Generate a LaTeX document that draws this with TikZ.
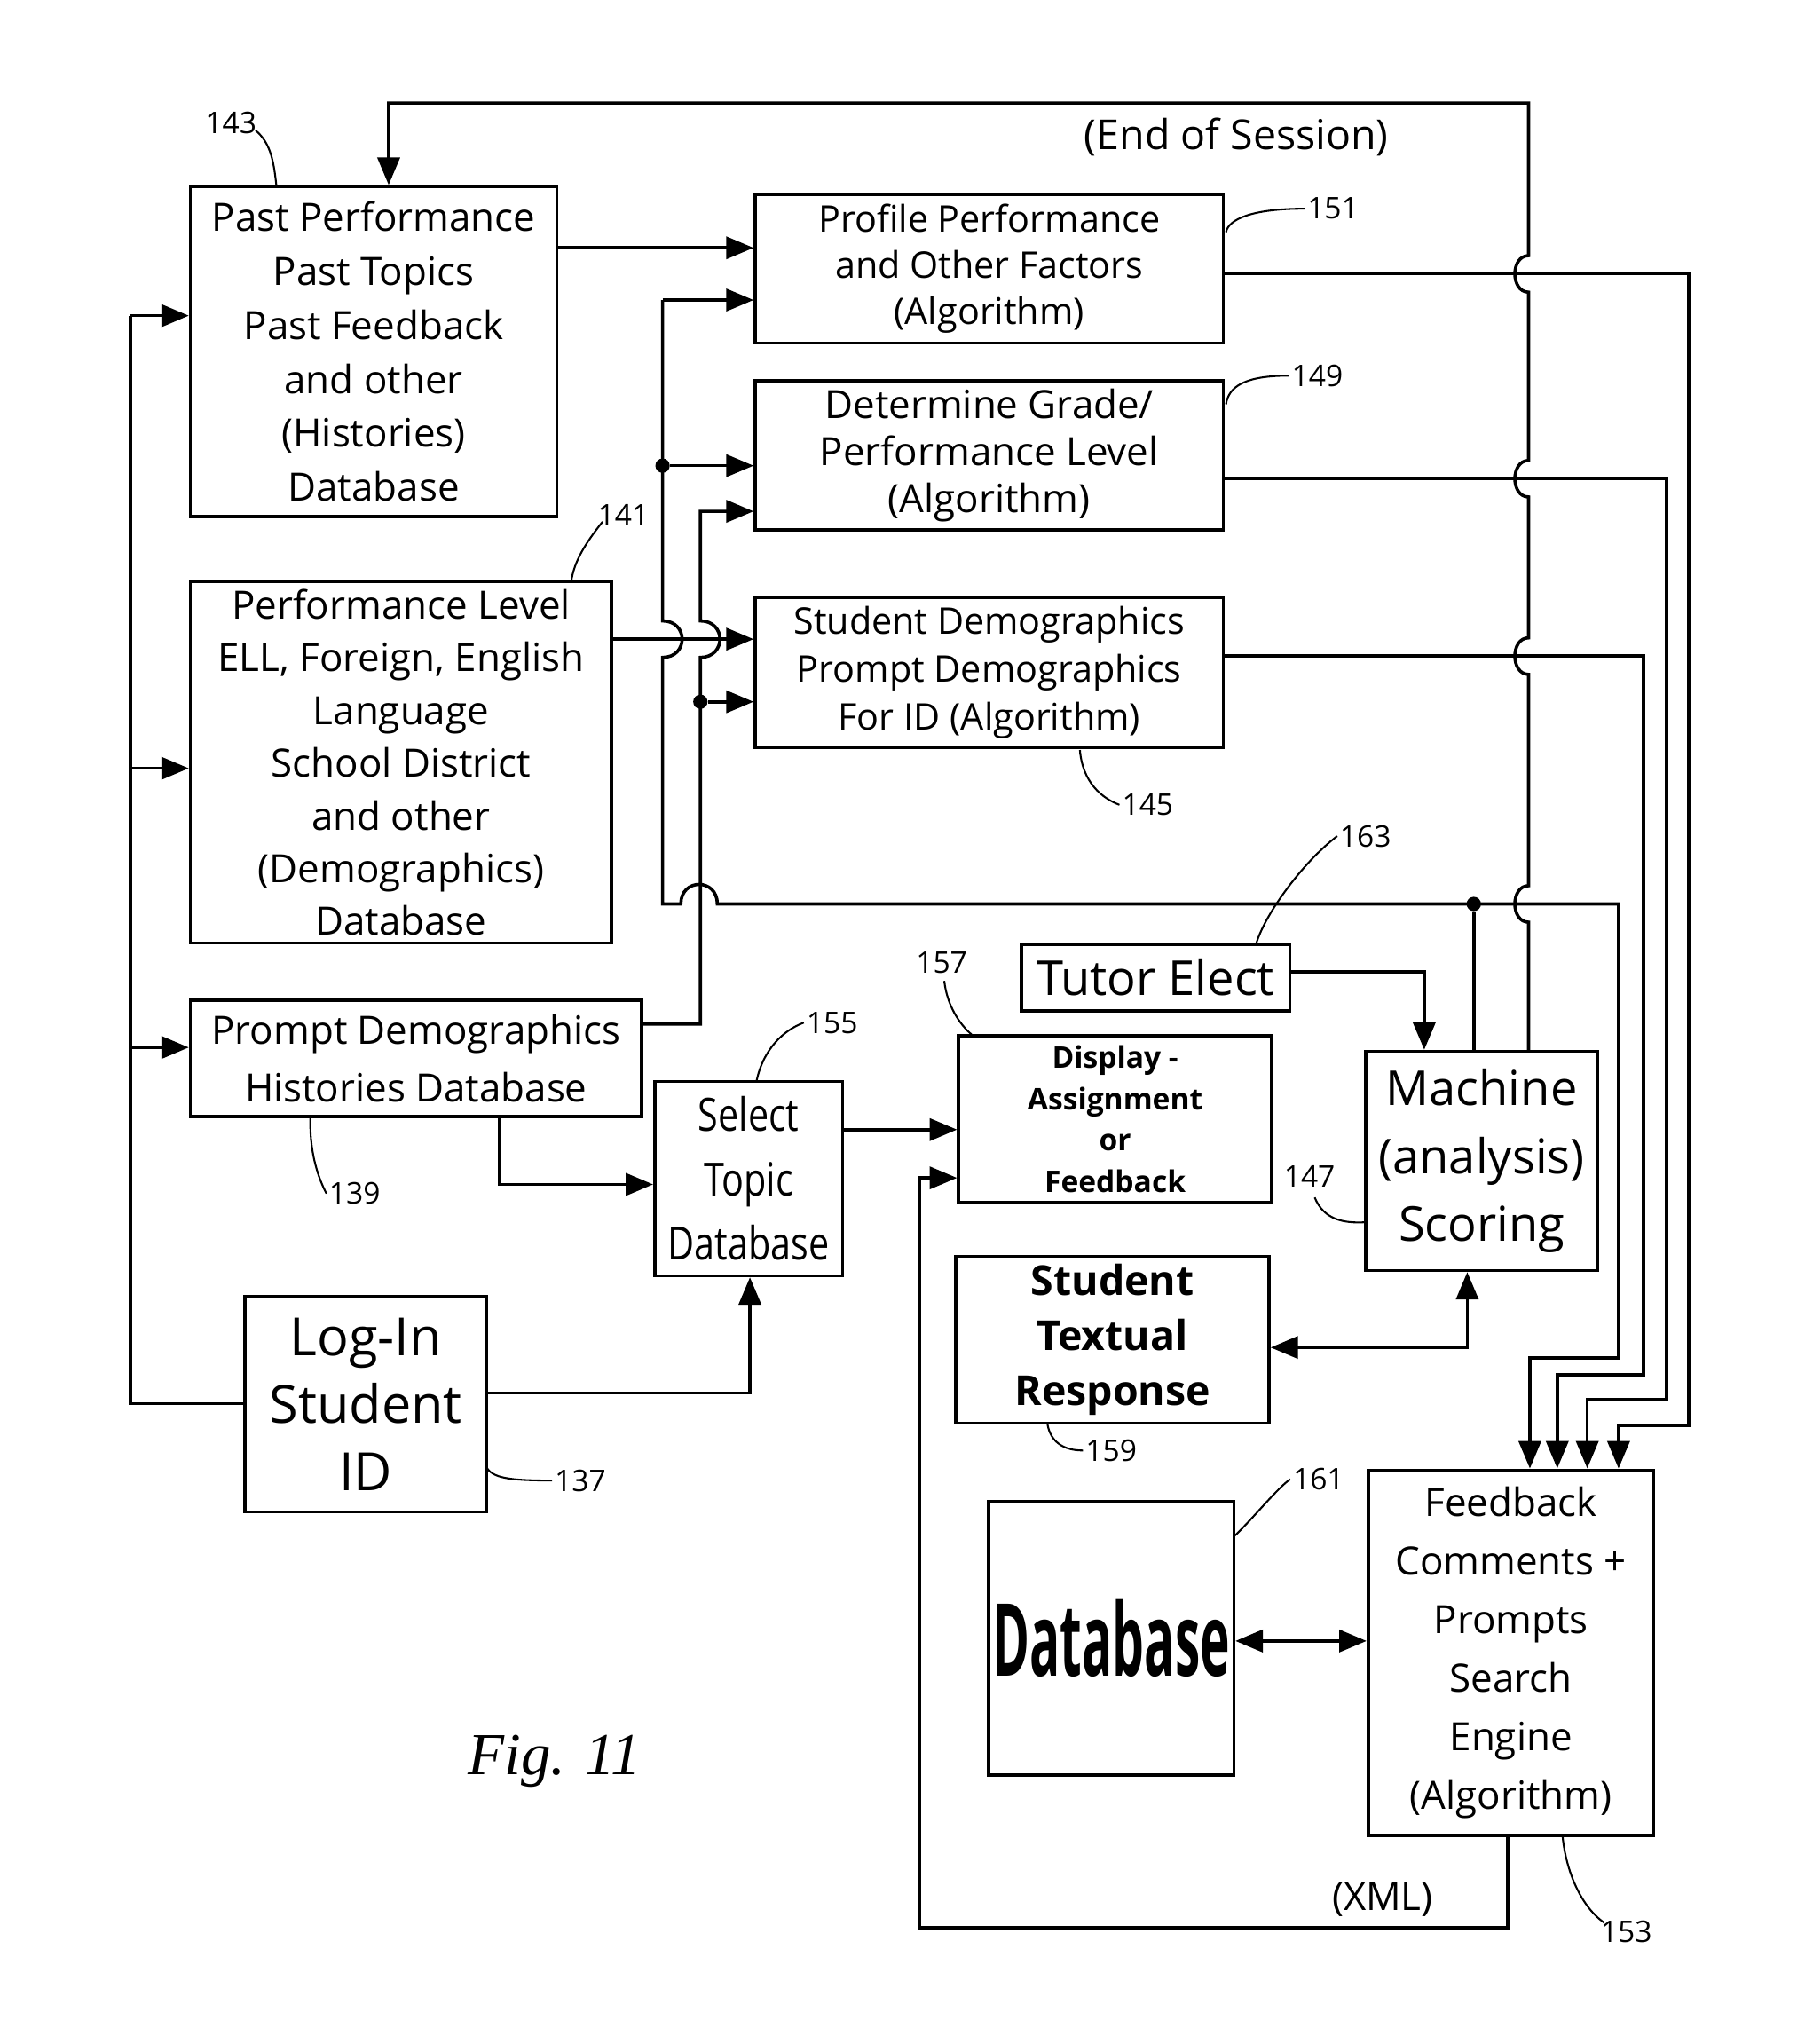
\documentclass[tikz,border=0pt]{standalone}
\usepackage{fontspec}
\setmainfont{Open Sans}
\usetikzlibrary{arrows.meta}
\newcommand{\bx}[7]{\node[box,font={#6},minimum width={(#4-#2)*0.02cm},minimum height={(#5-#3)*0.02cm}] (#1) at ({(#2+#4)/2},{(#3+#5)/2}) {#7};}
\begin{document}
\begin{tikzpicture}[x=0.02cm,y=-0.02cm,
  box/.style={draw,line width=1.4pt,inner sep=0pt,align=center},
  ln/.style={line width=1.4pt},
  ar/.style={ln,-{Triangle[length=0.42cm,width=0.34cm]}},
  dar/.style={ln,{Triangle[length=0.42cm,width=0.34cm]}-{Triangle[length=0.42cm,width=0.34cm]}},
  lbl/.style={font=\fontsize{13}{13}\selectfont,inner sep=1pt},
  dot/.style={circle,fill,inner sep=0pt,minimum size=0.22cm}]
\useasboundingbox (0,0) rectangle (1390,1567);
\bx{past}{146}{143}{427}{396}{\fontsize{17}{23.5}\selectfont}{Past Performance\\Past Topics\\Past Feedback\\and other\\(Histories)\\Database}
\bx{prof}{579}{149}{938}{263}{\fontsize{16}{20}\selectfont}{Profile Performance\\and Other Factors\\(Algorithm)}
\bx{grade}{579}{292}{938}{406}{\fontsize{17}{20.5}\selectfont}{Determine Grade/\\Performance Level\\(Algorithm)}
\bx{demo}{579}{458}{938}{573}{\fontsize{16}{21}\selectfont}{Student Demographics\\Prompt Demographics\\For ID (Algorithm)}
\bx{perf}{146}{446}{469}{723}{\fontsize{17}{23}\selectfont}{Performance Level\\ELL, Foreign, English\\Language\\School District\\and other\\(Demographics)\\Database}
\bx{pdh}{146}{767}{492}{856}{\fontsize{17}{25}\selectfont}{Prompt Demographics\\Histories Database}
\bx{sel}{502}{829}{646}{978}{\fontsize{20}{28}\selectfont}{\scalebox{0.8}[1]{Select}\\\scalebox{0.8}[1]{Topic}\\\scalebox{0.8}[1]{Database}}
\bx{login}{188}{994}{373}{1159}{\fontsize{23}{29.5}\selectfont}{Log-In\\Student\\ID}
\bx{tutor}{783}{724}{989}{775}{\fontsize{21}{24}\selectfont}{Tutor Elect}
\bx{disp}{735}{794}{975}{922}{\bfseries\fontsize{13}{18}\selectfont}{Display -\\Assignment\\or\\Feedback}
\bx{mach}{1047}{806}{1225}{974}{\fontsize{21}{29.5}\selectfont}{Machine\\(analysis)\\Scoring}
\bx{resp}{733}{963}{973}{1091}{\bfseries\fontsize{18}{24}\selectfont}{Student\\Textual\\Response}
\bx{db}{758}{1151}{946}{1361}{\bfseries\fontsize{44}{44}\selectfont}{\scalebox{0.5}[1]{Database}}
\bx{fb}{1049}{1127}{1268}{1407}{\fontsize{17}{25.5}\selectfont}{Feedback\\Comments +\\Prompts\\Search\\Engine\\(Algorithm)}
\node[font=\fontsize{18}{18}\selectfont] (eos) at (948,105) {(End of Session)};
\node[font=\fontsize{17}{17}\selectfont] (xml) at (1060,1456) {(XML)};
\node[font=\itshape\fontsize{26}{26}\selectfont,inner sep=0] (fig) at (425,1350) {\setmainfont{Liberation Serif}\itshape Fig. 11};
% login
\draw[ln] (login.west |- 0,1076) -- (100,1076) -- (100,242);
\draw[ar] (100,242) -- (past.west |- 0,242);
\draw[ar] (100,589) -- (perf.west |- 0,589);
\draw[ar] (100,803) -- (pdh.west |- 0,803);
\draw[ar] (login.east |- 0,1068) -- (575,1068) -- (sel.south -| 575,0);
\draw[ar] (pdh.south -| 383,0) -- (383,908) -- (sel.west |- 0,908);
\draw[ar] (sel.east |- 0,866) -- (disp.west |- 0,866);
\draw[ar] (past.east |- 0,190) -- (prof.west |- 0,190);
\draw[ar] (perf.east |- 0,490) -- (demo.west |- 0,490);
% vertical x=508
\coordinate (c230) at (508,230);
\draw[ar] (c230) -- (prof.west |- c230);
\draw[ar] (c230) -- (508,476) .. controls (528,476) and (528,504) .. (508,504) -- (508,693) -- (522,693) .. controls (522,673) and (550,673) .. (550,693) -- (1241,693) -- (1241,1041) -- (1173,1041) -- (fb.north -| 1173,0);
\node[dot] (d1) at (508,357) {};
\draw[ar] (d1) -- (grade.west |- 0,357);
% vertical x=537
\draw[ar] (pdh.east |- 0,785) -- (537,785) -- (537,504) .. controls (557,504) and (557,476) .. (537,476) -- (537,392) -- (grade.west |- 0,392);
\node[dot] (d2) at (537,538) {};
\draw[ar] (d2) -- (demo.west |- 0,538);
% right feed lines
\draw[ar] (prof.east |- 0,210) -- (1295,210) -- (1295,1093) -- (1241,1093) -- (fb.north -| 1241,0);
\draw[ar] (grade.east |- 0,367) -- (1278,367) -- (1278,1073) -- (1217,1073) -- (fb.north -| 1217,0);
\draw[ar] (demo.east |- 0,503) -- (1260,503) -- (1260,1054) -- (1194,1054) -- (fb.north -| 1194,0);
% machine to top
\node[dot] (d3) at (1130,693) {};
\draw[ln] (mach.north -| 1130,0) -- (d3);
\draw[ar] (mach.north -| 1172,0) -- (1172,707) .. controls (1158,707) and (1158,679) .. (1172,679)
  -- (1172,517) .. controls (1158,517) and (1158,489) .. (1172,489)
  -- (1172,381) .. controls (1158,381) and (1158,353) .. (1172,353)
  -- (1172,224) .. controls (1158,224) and (1158,196) .. (1172,196)
  -- (1172,79) -- (298,79) -- (past.north -| 298,0);
\draw[ar] (tutor.east |- 0,745) -- (1092,745) -- (mach.north -| 1092,0);
\draw[dar] (resp.east |- 0,1033) -- (1125,1033) -- (mach.south -| 1125,0);
\draw[dar] (db.east |- 0,1258) -- (fb.west |- 0,1258);
\draw[ar] (fb.south -| 1156,0) -- (1156,1478) -- (705,1478) -- (705,903) -- (disp.west |- 0,903);
% reference labels
\node[lbl] (n143) at (177,94) {143};
\draw[ln,line width=0.8pt] (196,100) .. controls (208,110) and (210,125) .. (212,143);
\node[lbl] (n151) at (1022,160) {151};
\draw[ln,line width=0.8pt] (n151.west) .. controls (960,160) and (942,168) .. (940,178);
\node[lbl] (n149) at (1010,288) {149};
\draw[ln,line width=0.8pt] (n149.west) .. controls (955,288) and (942,296) .. (940,310);
\node[lbl] (n141) at (478,395) {141};
\draw[ln,line width=0.8pt] (462,400) .. controls (450,415) and (440,430) .. (438,446);
\node[lbl] (n145) at (880,617) {145};
\draw[ln,line width=0.8pt] (n145.west) .. controls (845,612) and (830,600) .. (828,575);
\node[lbl] (n163) at (1047,641) {163};
\draw[ln,line width=0.8pt] (n163.west) .. controls (1000,660) and (970,700) .. (963,724);
\node[lbl] (n157) at (722,738) {157};
\draw[ln,line width=0.8pt] (724,752) .. controls (726,770) and (735,785) .. (746,794);
\node[lbl] (n155) at (638,784) {155};
\draw[ln,line width=0.8pt] (n155.west) .. controls (600,790) and (585,805) .. (580,829);
\node[lbl] (n139) at (272,915) {139};
\draw[ln,line width=0.8pt] (n139.west) .. controls (245,905) and (237,885) .. (238,856);
\node[lbl] (n147) at (1004,902) {147};
\draw[ln,line width=0.8pt] (1008,918) .. controls (1015,935) and (1030,938) .. (1047,937);
\node[lbl] (n159) at (852,1112) {159};
\draw[ln,line width=0.8pt] (n159.west) .. controls (815,1112) and (805,1105) .. (803,1091);
\node[lbl] (n137) at (445,1135) {137};
\draw[ln,line width=0.8pt] (n137.west) .. controls (390,1135) and (378,1133) .. (373,1125);
\node[lbl] (n161) at (1011,1134) {161};
\draw[ln,line width=0.8pt] (n161.west) .. controls (980,1140) and (960,1165) .. (946,1178);
\node[lbl] (n153) at (1247,1481) {153};
\draw[ln,line width=0.8pt] (1230,1474) .. controls (1210,1460) and (1200,1430) .. (1198,1407);
\end{tikzpicture}
\end{document}
